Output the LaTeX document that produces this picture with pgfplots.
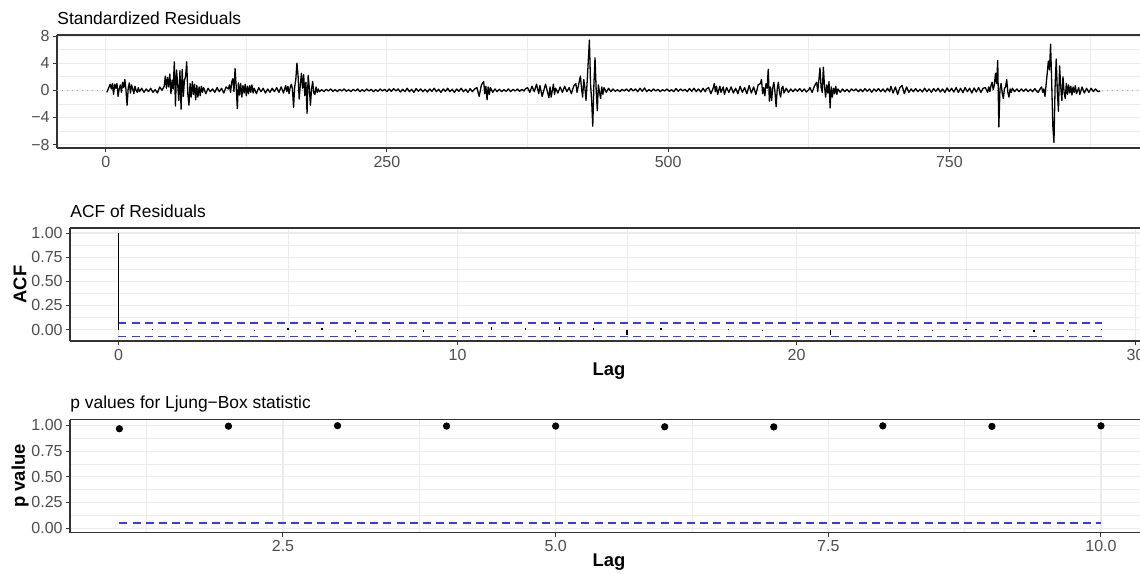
\documentclass[border=0pt]{standalone}
\usepackage{fontspec}
\setmainfont{Liberation Sans}
\usepackage{pgfplots}
\pgfplotsset{compat=1.18}

\definecolor{tickgrey}{HTML}{4D4D4D}
\definecolor{framegrey}{HTML}{333333}
\definecolor{gridgrey}{HTML}{EBEBEB}
\definecolor{bandblue}{rgb}{0.22,0.22,1}

\pgfplotsset{
  diag/.style={
    scale only axis,
    axis x line=box, axis y line=left,
    axis line style={-, framegrey, line width=0.65pt},
    tick align=outside, xtick pos=left, ytick pos=left,
    major tick length=2pt, minor tick length=0pt,
    tick style={framegrey, line width=0.5pt},
    xmajorgrids, ymajorgrids, xminorgrids, yminorgrids,
    major grid style={gridgrey, line width=0.55pt},
    minor grid style={gridgrey, line width=0.3pt},
    ticklabel style={font=\fontsize{8}{9.6}\selectfont, text=tickgrey, inner sep=0pt},
    xticklabel style={anchor=base, yshift=-7.5pt},
    yticklabel style={anchor=east, xshift=-1.5pt},
    title style={at={(axis description cs:0,1)}, anchor=base west, inner sep=0pt, yshift=-0.6pt, font=\fontsize{8.7}{10}\selectfont},
    label style={font=\fontsize{9.2}{11}\selectfont\bfseries},
    xlabel style={at={(axis description cs:0.5037,0)}, anchor=center, inner sep=0pt, yshift=-15pt},
    ylabel style={at={(axis description cs:-0.0467,0.5)}, anchor=center, inner sep=0pt},
  },
}

\begin{document}
\begin{tikzpicture}
\useasboundingbox (0,0) rectangle (570pt,-286.5pt);

% standardized residuals
\begin{axis}[diag,
  at={(28.5pt,-17.5pt)}, anchor=north west,
  width=541.5pt, height=56.5pt,
  title={Standardized Residuals},
  xmin=-43.3, xmax=919.5, ymin=-8.5, ymax=8.15,
  xtick={0,250,500,750}, minor xtick={125,375,625,875},
  xticklabels={0,250,500,750},
  ytick={-8,-4,0,4,8}, minor ytick={-6,-2,2,6},
  yticklabels={−8,−4,0,4,8},
]
\addplot[gray!70, dotted, line width=0.5pt] coordinates {(-43.3,0) (919.5,0)};
\addplot[black, line width=0.65pt, line join=round] coordinates {
(1,-0.3) (2,0.1) (3,0.5) (4,0.9) (5,0.2) (6,1.0) (7,-0.6) (8,0.9) (9,0.3) (10,1.0)
(11,-0.9) (12,0.2) (13,0.8) (14,-0.3) (15,1.2) (16,0.4) (17,1.6) (18,0.1) (19,-2.2) (20,0.3)
(21,1.1) (22,-0.4) (23,0.8) (24,0.2) (25,-0.5) (26,0.6) (27,0.0) (28,-0.3) (29,0.4) (30,-0.2)
(32,0.3) (34,-0.3) (36,0.2) (38,-0.2) (40,0.3) (42,-0.3) (44,0.1) (46,-0.4) (48,0.5) (50,0.0)
(52,0.6) (53,2.1) (54,0.3) (55,1.9) (56,0.5) (57,2.4) (58,-0.5) (59,1.5) (60,0.2) (61,4.2)
(62,-2.3) (63,3.0) (64,0.8) (65,-1.5) (66,2.9) (67,-2.8) (68,3.1) (69,-0.9) (70,1.5) (71,2.0)
(72,4.2) (73,-0.5) (74,-2.2) (75,1.0) (76,-1.0) (77,1.3) (78,-0.6) (79,0.9) (80,-1.4) (81,0.7)
(82,-1.0) (83,0.5) (84,-0.8) (85,0.6) (86,-0.3) (87,0.4) (89,-0.5) (91,0.3) (93,-0.2) (95,0.2)
(97,-0.3) (99,0.4) (101,-0.2) (103,0.3) (105,-0.4) (107,0.5) (109,0.2) (110,0.8) (111,-0.3) (112,1.2)
(113,1.7) (114,-0.2) (115,3.2) (116,0.6) (117,-2.7) (118,1.1) (119,-0.7) (120,1.0) (121,-1.0) (122,0.7)
(123,-0.4) (124,0.9) (125,-0.8) (126,0.6) (127,-0.5) (128,0.7) (129,-0.3) (130,0.8) (131,-0.4) (132,0.3)
(134,-0.5) (136,0.4) (138,-0.2) (140,0.3) (142,-0.4) (144,0.2) (146,-0.3) (148,0.3) (150,-0.2) (152,0.4)
(154,-0.3) (156,0.5) (158,-0.4) (160,0.7) (161,-0.2) (162,0.6) (163,-0.5) (164,0.4) (165,0.9) (166,0.2)
(167,-2.5) (168,0.5) (169,1.6) (170,4.0) (171,2.2) (172,-1.3) (173,0.8) (174,2.5) (175,0.3) (176,2.3)
(177,-0.8) (178,1.2) (179,-3.4) (180,2.2) (181,0.4) (182,-2.2) (183,0.2) (184,1.3) (185,-0.4) (186,-0.6)
(187,0.5) (188,-0.3) (189,0.2) (190,-0.2) (192,0.1) (194,-0.2) (196,0.15) (198,-0.1) (200,0.2) (202,-0.15)
(204,0.1) (206,-0.2) (208,0.15) (210,-0.1) (212,0.2) (214,-0.15) (216,0.1) (218,-0.2) (220,0.15) (222,-0.1)
(224,0.2) (226,-0.2) (228,0.1) (230,-0.15) (232,0.2) (234,-0.1) (236,0.15) (238,-0.2) (240,0.1) (242,-0.15)
(244,0.2) (246,-0.1) (248,0.15) (250,-0.2) (252,0.2) (254,-0.15) (256,0.25) (258,-0.1) (260,0.2) (262,-0.25)
(264,0.15) (266,-0.2) (268,0.3) (270,-0.2) (272,0.15) (274,-0.3) (276,0.25) (278,-0.15) (280,0.2) (282,-0.2)
(284,0.15) (286,-0.25) (288,0.2) (290,-0.15) (292,0.3) (294,-0.2) (296,0.15) (298,-0.3) (300,0.2) (302,-0.15)
(304,0.3) (306,-0.2) (308,0.15) (310,-0.3) (312,0.2) (314,-0.15) (316,0.3) (318,-0.2) (320,0.15) (322,-0.3)
(324,0.25) (326,-0.2) (328,0.2) (330,0.4) (332,-0.9) (334,0.8) (336,1.3) (337,-0.5) (338,0.6) (339,-1.4)
(340,0.5) (341,-0.6) (342,0.4) (344,-0.3) (346,0.2) (348,-0.2) (350,0.15) (352,-0.2) (354,0.1) (356,-0.15)
(358,0.2) (360,-0.2) (362,0.15) (364,-0.1) (366,0.2) (368,-0.15) (370,0.15) (372,-0.1) (373,0.2) (375,0.4)
(377,-0.3) (379,0.6) (381,-0.2) (383,0.9) (385,-0.5) (386,0.7) (388,-0.9) (390,0.3) (391,0.9) (393,-0.4)
(394,-1.1) (395,0.5) (396,-1.0) (398,0.9) (399,-0.6) (400,0.3) (402,-0.4) (404,0.5) (406,-0.3) (408,0.6)
(410,-0.2) (412,0.4) (414,-0.5) (416,0.6) (418,1.0) (419,-0.3) (420,0.5) (422,2.1) (423,0.3) (424,-1.0)
(425,1.6) (426,0.4) (427,-1.5) (428,1.2) (430,7.4) (431,1.0) (432,-1.5) (433,-5.3) (434,0.8) (435,4.8)
(436,0.2) (437,-3.0) (438,0.8) (439,-0.3) (440,-1.2) (441,0.5) (442,-0.6) (443,0.4) (445,-0.3) (447,0.3)
(449,-0.2) (451,0.2) (453,-0.15) (455,0.1) (457,-0.2) (459,0.15) (461,-0.1) (463,0.2) (465,-0.15) (467,0.25)
(469,-0.1) (471,0.2) (473,-0.2) (475,0.3) (477,-0.15) (479,0.35) (481,-0.2) (483,0.1) (485,-0.15) (487,0.2)
(489,-0.1) (491,0.15) (493,-0.2) (495,0.1) (497,-0.1) (499,0.2) (501,-0.15) (503,0.1) (505,-0.2) (507,0.25)
(509,-0.15) (511,0.2) (513,-0.1) (515,0.15) (517,-0.2) (519,0.25) (521,-0.15) (523,0.3) (525,-0.2) (527,0.2)
(529,-0.25) (531,0.3) (533,-0.2) (534,0.2) (536,0.4) (538,-0.5) (540,0.3) (541,1.0) (542,-0.2) (543,0.6)
(544,-0.6) (546,0.6) (547,-0.3) (549,0.5) (550,-0.6) (552,0.4) (554,-0.3) (556,0.5) (558,-0.4) (560,0.3)
(562,-0.5) (564,0.6) (566,-0.3) (568,0.4) (570,-0.5) (572,0.7) (574,-0.4) (576,0.5) (578,-0.6) (580,0.8)
(582,1.0) (583,1.6) (584,-0.5) (585,0.4) (586,-0.8) (587,1.0) (588,0.3) (589,3.1) (590,-1.6) (591,0.5)
(592,-1.5) (593,0.4) (594,1.2) (595,-0.3) (596,-2.4) (597,0.2) (598,1.2) (599,-0.3) (600,-1.0) (601,0.3)
(602,0.6) (603,-0.4) (605,0.3) (607,-0.3) (609,0.2) (611,-0.2) (613,0.2) (615,-0.15) (617,0.25) (619,-0.2)
(621,0.2) (623,-0.25) (625,0.1) (626,0.4) (628,-0.3) (630,0.6) (632,1.2) (633,-0.2) (634,1.5) (635,3.3)
(636,0.4) (637,-0.3) (638,3.4) (639,0.6) (640,-1.0) (641,0.8) (642,-0.4) (643,1.3) (644,-2.6) (645,0.5)
(646,-1.0) (647,0.3) (648,-0.5) (649,0.6) (650,-0.6) (651,0.2) (653,-0.3) (655,0.2) (657,-0.2) (659,0.15)
(661,-0.25) (663,0.2) (665,-0.1) (667,0.2) (669,-0.2) (671,0.15) (673,-0.2) (675,0.25) (677,-0.15) (679,0.2)
(681,-0.3) (683,0.2) (685,-0.15) (687,0.25) (689,-0.2) (691,0.2) (693,-0.25) (695,0.3) (697,-0.2) (698,0.6)
(700,-0.4) (702,0.5) (704,-0.6) (706,0.4) (708,0.7) (710,-0.5) (712,0.5) (714,-0.3) (716,0.2) (718,-0.2)
(720,0.25) (722,-0.2) (724,0.15) (726,-0.25) (728,0.3) (730,-0.2) (732,0.2) (734,-0.3) (736,0.25) (738,-0.15)
(740,0.3) (742,-0.25) (744,0.2) (746,-0.3) (748,0.35) (750,-0.2) (752,0.3) (754,-0.25) (756,0.4) (758,-0.3)
(760,0.3) (762,-0.35) (764,0.4) (766,-0.2) (768,0.3) (770,-0.4) (772,0.35) (774,-0.25) (776,0.4) (778,-0.3)
(780,0.3) (782,0.4) (784,-0.3) (785,0.5) (786,-0.2) (787,0.7) (788,1.2) (789,0.1) (790,0.8) (791,2.5)
(792,1.0) (793,4.4) (794,-5.4) (795,0.2) (796,1.0) (797,-0.4) (798,-1.2) (799,0.3) (800,0.5) (801,1.6)
(802,-0.3) (803,-1.0) (804,0.2) (805,-0.3) (806,0.3) (808,-0.2) (810,0.2) (812,-0.2) (814,0.2) (816,-0.15)
(818,0.2) (820,-0.2) (822,0.15) (824,-0.2) (826,0.25) (828,-0.2) (829,-0.3) (831,0.3) (832,0.5) (833,-0.3)
(834,0.2) (835,-0.9) (836,0.8) (837,2.5) (838,4.3) (839,3.0) (840,6.8) (841,1.0) (842,-5.3) (843,-7.7)
(844,0.5) (845,4.6) (846,-0.2) (847,-3.1) (848,3.6) (849,0.5) (850,-1.5) (851,2.0) (852,-0.3) (853,-1.2)
(854,1.0) (855,-0.6) (856,0.8) (857,-0.4) (858,0.6) (859,-0.7) (860,0.5) (861,-0.3) (862,0.7) (863,-0.5)
(865,0.4) (866,-0.6) (868,0.5) (870,-0.4) (872,0.3) (874,-0.3) (876,0.3) (878,-0.2) (880,0.2) (882,-0.2)
(884,-0.1)
};
\end{axis}

% ACF of residuals
\begin{axis}[diag,
  at={(35pt,-114pt)}, anchor=north west,
  width=535pt, height=56.5pt,
  title={ACF of Residuals}, xlabel={Lag}, ylabel={ACF},
  xmin=-1.43, xmax=30.13, ymin=-0.118, ymax=1.052,
  xtick={0,10,20,30}, minor xtick={5,15,25},
  xticklabels={0,10,20,30},
  ytick={0,0.25,0.5,0.75,1}, minor ytick={0.125,0.375,0.625,0.875},
  yticklabels={0.00,0.25,0.50,0.75,1.00},
]
\addplot[bandblue, line width=0.7pt, dash pattern=on 4pt off 2.6pt] coordinates {(0,0.068) (29,0.068)};
\addplot[bandblue, line width=0.7pt, dash pattern=on 4pt off 2.6pt] coordinates {(0,-0.069) (29,-0.069)};
\addplot[ycomb, black, line width=0.6pt] coordinates {
(0,1.0) (1,0.002) (2,0.003) (3,-0.003) (4,-0.008) (5,0.015) (6,0.02) (7,-0.02) (8,0.002) (9,-0.025)
(10,-0.003) (11,0.03) (12,0.017) (13,0.022) (14,0.012) (15,-0.06) (16,0.015) (17,0.002) (18,0.002) (19,-0.002)
(20,0.003) (21,-0.06) (22,-0.012) (23,-0.005) (24,-0.01) (25,0.008) (26,-0.012) (27,-0.02) (28,-0.01) (29,0.01)
};
\end{axis}

% Ljung-Box p values
\begin{axis}[diag,
  at={(35pt,-209.75pt)}, anchor=north west,
  width=535pt, height=56.5pt,
  title={p values for Ljung−Box statistic}, xlabel={Lag}, ylabel={p value},
  xmin=0.547, xmax=10.358, ymin=-0.043, ymax=1.058,
  xtick={2.5,5,7.5,10}, minor xtick={1.25,3.75,6.25,8.75},
  xticklabels={2.5,5.0,7.5,10.0},
  ytick={0,0.25,0.5,0.75,1}, minor ytick={0.125,0.375,0.625,0.875},
  yticklabels={0.00,0.25,0.50,0.75,1.00},
]
\addplot[bandblue, line width=0.7pt, dash pattern=on 4pt off 2.6pt] coordinates {(1,0.05) (10,0.05)};
\addplot[only marks, mark=*, mark size=1.6pt, black] coordinates {
(1,0.968) (2,0.993) (3,0.998) (4,0.994) (5,0.994) (6,0.987) (7,0.986) (8,0.996) (9,0.991) (10,0.996)
};
\end{axis}
\end{tikzpicture}
\end{document}
